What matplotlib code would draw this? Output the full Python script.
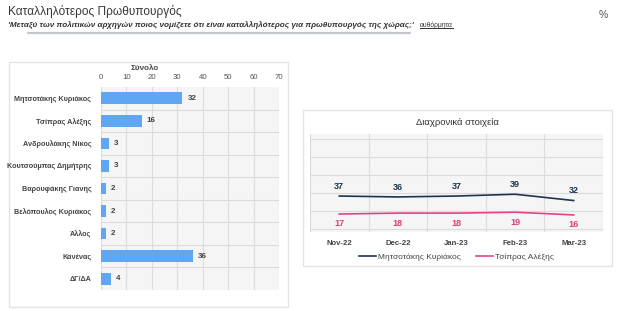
import matplotlib
matplotlib.use("Agg")
import matplotlib.pyplot as plt
from matplotlib.patches import Rectangle
from matplotlib.lines import Line2D

plt.rcParams["font.family"] = ["Liberation Sans", "DejaVu Sans"]

# ---- data ----
categories = ["Μητσοτάκης Κυριάκος", "Τσίπρας Αλέξης", "Ανδρουλάκης Νίκος",
              "Κουτσούμπας Δημήτρης", "Βαρουφάκης Γιανης", "Βελόπουλος Κυριάκος",
              "Άλλος", "Κανένας", "ΔΓ/ΔΑ"]
values = [32, 16, 3, 3, 2, 2, 2, 36, 4]
bar_ticks = [0, 10, 20, 30, 40, 50, 60, 70]

months = ["Nov-22", "Dec-22", "Jan-23", "Feb-23", "Mar-23"]
mitsotakis = [37, 36, 37, 39, 32]
tsipras = [17, 18, 18, 19, 16]
series_names = ["Μητσοτάκης Κυριάκος", "Τσίπρας Αλέξης"]

title = "Καταλληλότερος Πρωθυπουργός"
subtitle = "'Μεταξύ των πολιτικών αρχηγών ποιος νομίζετε ότι είναι καταλληλότερος για πρωθυπουργός της χώρας;'"
subtitle2 = "αυθόρμητα"

W, H = 620, 311
fig = plt.figure(figsize=(W / 100, H / 100), dpi=100)
fig.patch.set_facecolor("white")

def px_axes(x0, y0, x1, y1, **kw):
    return fig.add_axes([x0 / W, 1 - y1 / H, (x1 - x0) / W, (y1 - y0) / H], **kw)

# overlay axes for decorations in pixel coords
ov = fig.add_axes([0, 0, 1, 1], zorder=-1)
ov.set_xlim(0, W)
ov.set_ylim(H, 0)
ov.axis("off")

ov.add_patch(Rectangle((9, 62), 279, 245, fill=False, edgecolor="#e4e4e4", lw=1))
ov.add_patch(Rectangle((303, 110), 309, 156, fill=False, edgecolor="#e4e4e4", lw=1))
ov.plot([28, 410], [33, 33], color="#9aa3ad", lw=1.6, alpha=0.6, solid_capstyle="round")

fig.text(8 / W, 1 - 12 / H, title, fontsize=8.6, color="#3a3a3a", va="center", ha="left")
t = fig.text(8 / W, 1 - 25 / H, subtitle, fontsize=5.9, color="#333333",
             style="italic", fontweight="bold", va="center", ha="left")
fig.canvas.draw()
bb = t.get_window_extent()
x2 = bb.x1 + 6
t2 = fig.text(x2 / W, 1 - 25 / H, subtitle2, fontsize=4.9, color="#333333",
              va="center", ha="left")
fig.canvas.draw()
bb2 = t2.get_window_extent()
fig.add_artist(Line2D([bb2.x0 / W, bb2.x1 / W], [bb2.y0 / H + 0.001, bb2.y0 / H + 0.001],
                      color="#333333", lw=0.7))
fig.text(599 / W, 1 - 15 / H, "%", fontsize=7.5, color="#555555", va="center", ha="left")

# ---- bar chart ----
ax = px_axes(101, 87, 279, 290)
ax.set_facecolor("#f5f5f5")
y = list(range(len(categories)))
ax.barh(y, values, height=0.52, color="#5fa7f2", zorder=3)
ax.set_xlim(0, 70)
ax.set_ylim(len(categories) - 0.5, -0.5)
ax.set_xticks(bar_ticks)
ax.xaxis.tick_top()
ax.tick_params(axis="x", length=0, labelsize=5.6, labelcolor="#555555", pad=4)
ax.set_yticks(y)
ax.set_yticklabels(categories)
ax.tick_params(axis="y", length=0, labelsize=5.2, labelcolor="#444444", pad=7)
for lab in ax.get_yticklabels():
    lab.set_fontweight("bold")
ax.set_yticks([i + 0.5 for i in y[:-1]], minor=True)
ax.tick_params(axis="y", which="minor", length=0)
ax.grid(True, axis="x", color="#dcdcdc", lw=0.8, zorder=0)
ax.grid(True, axis="y", which="minor", color="#dcdcdc", lw=0.8, zorder=0)
for s in ax.spines.values():
    s.set_visible(False)
for yi, v in zip(y, values):
    ax.text(v + 2, yi, str(v), va="center", ha="left", fontsize=5.8,
            color="#444444", fontweight="bold", zorder=4)
fig.text(145 / W, 1 - 69 / H, "Σύνολο", fontsize=5.8, color="#444444",
         fontweight="bold", ha="center", va="center")

# ---- line chart ----
ax2 = px_axes(310, 134, 603, 232)
ax2.set_facecolor("#f5f5f5")
xs = list(range(len(months)))
ax2.plot(xs, mitsotakis, color="#1d3550", lw=1.2, zorder=3, label=series_names[0])
ax2.plot(xs, tsipras, color="#e0458a", lw=1.2, zorder=3, label=series_names[1])
ax2.set_xlim(-0.5, 4.5)
ax2.set_ylim(-3, 106)
ax2.set_xticks(xs)
ax2.set_xticklabels(months)
ax2.set_xticks([i + 0.5 for i in range(-1, 5)], minor=True)
ax2.set_yticks([0, 20, 40, 60, 80, 100])
ax2.tick_params(axis="x", length=0, labelsize=5.6, labelcolor="#444444", pad=6)
ax2.tick_params(axis="x", which="minor", length=0)
for lab in ax2.get_xticklabels():
    lab.set_fontweight("bold")
ax2.tick_params(axis="y", length=0, labelleft=False)
ax2.grid(True, which="minor", axis="x", color="#dcdcdc", lw=0.8, zorder=0)
ax2.grid(True, which="major", axis="y", color="#dcdcdc", lw=0.8, zorder=0)
for s in ax2.spines.values():
    s.set_visible(False)
for xi, v in zip(xs, mitsotakis):
    ax2.text(xi, v + 6, str(v), ha="center", va="bottom", fontsize=6.5,
             color="#1d3550", fontweight="bold")
for xi, v in zip(xs, tsipras):
    ax2.text(xi, v - 6, str(v), ha="center", va="top", fontsize=6.5,
             color="#d9407f", fontweight="bold")
fig.text(457 / W, 1 - 122 / H, "Διαχρονικά στοιχεία", fontsize=6.8, color="#333333",
         ha="center", va="center")
leg = ax2.legend(loc="upper center", bbox_to_anchor=(0.5, -0.14), ncol=2,
                 frameon=False, fontsize=6.0, handlelength=2.0, handletextpad=0.3,
                 columnspacing=1.8, labelcolor="#444444")

fig.savefig("out.png", dpi=100, facecolor="white")
